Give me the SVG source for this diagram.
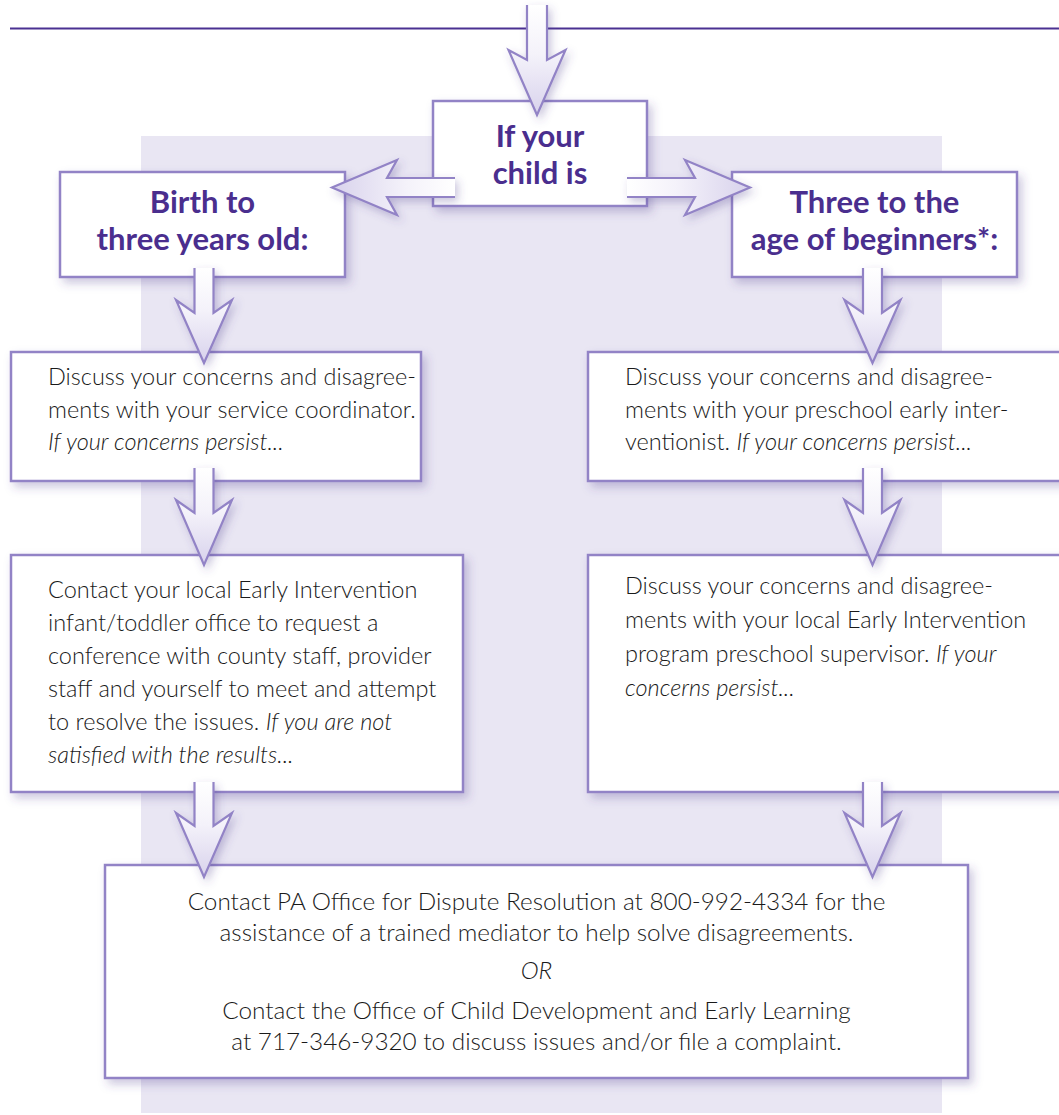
<svg xmlns="http://www.w3.org/2000/svg" width="1059" height="1115" viewBox="0 0 1059 1115">
<defs>
<style>
.box{fill:#fff;stroke:#9283c6;stroke-width:2.5;filter:url(#sh)}
.hd{font-family:Lato,"Open Sans","Liberation Sans",sans-serif;font-weight:700;font-size:31px;fill:#4a2e8e;text-anchor:middle}
.tx{font-family:Lato,"Open Sans","Liberation Sans",sans-serif;font-weight:300;font-size:23.5px;fill:#1a1a1a}
.bt{font-size:24.3px}
.ctr{text-anchor:middle}
.it{font-style:italic}
.arr{stroke:#9283c6;stroke-width:2.2;stroke-linejoin:miter;filter:url(#sh2)}
</style>
<filter id="sh" x="-10%" y="-10%" width="130%" height="135%">
<feDropShadow dx="4" dy="5" stdDeviation="5" flood-color="#4e3d8f" flood-opacity="0.28"/>
</filter>
<filter id="sh2" x="-30%" y="-20%" width="160%" height="150%">
<feDropShadow dx="3" dy="4" stdDeviation="4" flood-color="#4e3d8f" flood-opacity="0.3"/>
</filter>
<linearGradient id="gd" x1="0" y1="0" x2="0" y2="1">
<stop offset="0" stop-color="#ffffff"/>
<stop offset="0.45" stop-color="#f4f2fa"/>
<stop offset="1" stop-color="#d8d2ec"/>
</linearGradient>
<linearGradient id="gl" x1="1" y1="0" x2="0" y2="0">
<stop offset="0" stop-color="#ffffff"/>
<stop offset="0.4" stop-color="#f4f2fa"/>
<stop offset="1" stop-color="#d8d2ec"/>
</linearGradient>
<linearGradient id="gr" x1="0" y1="0" x2="1" y2="0">
<stop offset="0" stop-color="#ffffff"/>
<stop offset="0.4" stop-color="#f4f2fa"/>
<stop offset="1" stop-color="#d8d2ec"/>
</linearGradient>
</defs>

<rect x="0" y="0" width="1059" height="1115" fill="#fff"/>
<rect id="backdrop" x="141" y="136" width="801" height="977" fill="#e9e6f3"/>
<line x1="10" y1="28.5" x2="1059" y2="28.5" stroke="#4b3192" stroke-width="2"/>

<g id="n-start">
<rect class="box" x="433" y="101" width="214" height="105"/>
<text class="hd" x="540" y="147">If your</text>
<text class="hd" x="540" y="184">child is</text>
</g>

<g id="n-birth">
<rect class="box" x="60" y="172" width="285" height="105"/>
<text class="hd" x="202.5" y="213">Birth to</text>
<text class="hd" x="202.5" y="250">three years old:</text>
</g>

<g id="n-three">
<rect class="box" x="732" y="172" width="285" height="105"/>
<text class="hd" x="874.5" y="213">Three to the</text>
<text class="hd" x="874.5" y="250">age of beginners*:</text>
</g>

<g id="n-left1">
<rect class="box" x="11" y="352" width="410" height="129"/>
<text class="tx" x="48" y="385">Discuss your concerns and disagree-</text>
<text class="tx" x="48" y="418">ments with your service coordinator.</text>
<text class="tx it" x="48" y="450">If your concerns persist...</text>
</g>

<g id="n-right1">
<rect class="box" x="588" y="352" width="480" height="129"/>
<text class="tx" x="625" y="385">Discuss your concerns and disagree-</text>
<text class="tx" x="625" y="418">ments with your preschool early inter-</text>
<text class="tx" x="625" y="450">ventionist. <tspan class="it">If your concerns persist...</tspan></text>
</g>

<g id="n-left2">
<rect class="box" x="11" y="555" width="452" height="237"/>
<text class="tx" x="48" y="598">Contact your local Early Intervention</text>
<text class="tx" x="48" y="631">infant/toddler office to request a</text>
<text class="tx" x="48" y="664">conference with county staff, provider</text>
<text class="tx" x="48" y="697">staff and yourself to meet and attempt</text>
<text class="tx" x="48" y="730">to resolve the issues. <tspan class="it">If you are not</tspan></text>
<text class="tx it" x="48" y="763">satisfied with the results...</text>
</g>

<g id="n-right2">
<rect class="box" x="588" y="555" width="480" height="237"/>
<text class="tx" x="625" y="594">Discuss your concerns and disagree-</text>
<text class="tx" x="625" y="628">ments with your local Early Intervention</text>
<text class="tx" x="625" y="662">program preschool supervisor. <tspan class="it">If your</tspan></text>
<text class="tx it" x="625" y="696">concerns persist...</text>
</g>

<g id="n-final">
<rect class="box" x="105" y="865" width="863" height="213"/>
<text class="tx bt ctr" x="536.5" y="910">Contact PA Office for Dispute Resolution at 800-992-4334 for the</text>
<text class="tx bt ctr" x="536.5" y="941">assistance of a trained mediator to help solve disagreements.</text>
<text class="tx bt ctr it" x="536.5" y="979">OR</text>
<text class="tx bt ctr" x="536.5" y="1019">Contact the Office of Child Development and Early Learning</text>
<text class="tx bt ctr" x="536.5" y="1050">at 717-346-9320 to discuss issues and/or file a complaint.</text>
</g>

<g id="connectors">
<path class="arr" fill="url(#gd)" d="M527,5 L527,60 L508.5,50 L537,115 L565.5,50 L547,60 L547,5"/>
<path class="arr" fill="url(#gl)" d="M455,178 L387,178 L397,160 L332,187.5 L397,215 L387,197 L455,197"/>
<path class="arr" fill="url(#gr)" d="M627,178 L695,178 L685,160 L750,187.5 L685,215 L695,197 L627,197"/>
<path class="arr" fill="url(#gd)" d="M194.5,268 L194.5,313 L176,300 L204,363 L232,300 L213.5,313 L213.5,268"/>
<path class="arr" fill="url(#gd)" d="M194.5,468 L194.5,513 L176,500 L204,565 L232,500 L213.5,513 L213.5,468"/>
<path class="arr" fill="url(#gd)" d="M194.5,782 L194.5,826 L176,813 L204,877 L232,813 L213.5,826 L213.5,782"/>
<path class="arr" fill="url(#gd)" d="M863,268 L863,313 L844.5,300 L872.5,363 L900.5,300 L882,313 L882,268"/>
<path class="arr" fill="url(#gd)" d="M863,468 L863,513 L844.5,500 L872.5,565 L900.5,500 L882,513 L882,468"/>
<path class="arr" fill="url(#gd)" d="M863,782 L863,826 L844.5,813 L872.5,877 L900.5,813 L882,826 L882,782"/>
</g>
</svg>
